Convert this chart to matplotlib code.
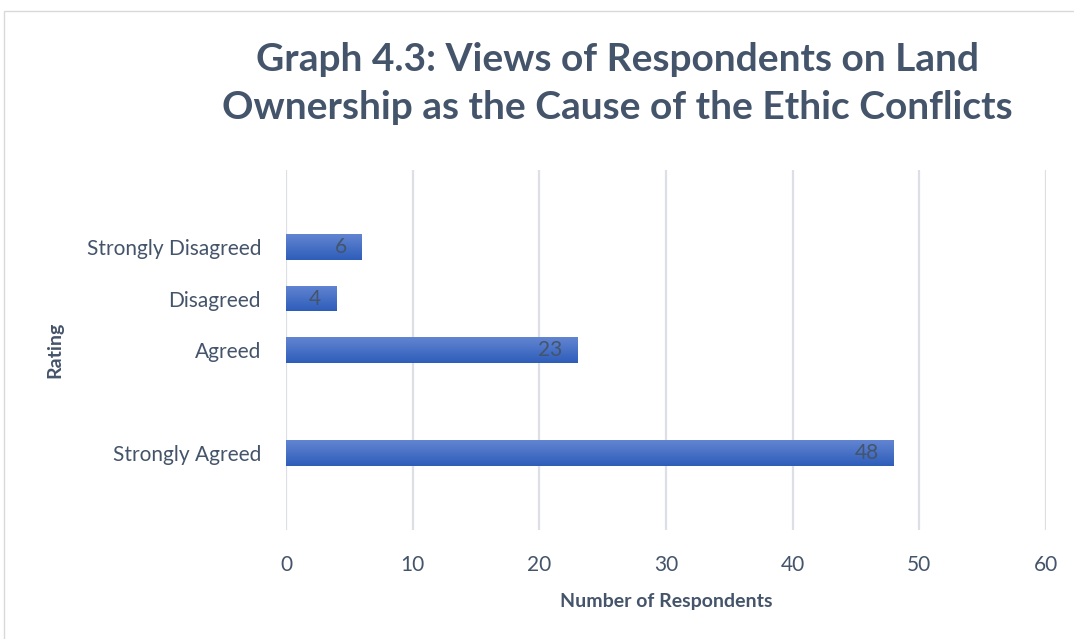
import matplotlib
matplotlib.use("Agg")
import matplotlib.pyplot as plt
from matplotlib.patches import Rectangle
import numpy as np

# data (bottom to top, blank slot between Strongly Agreed and Agreed)
categories = ["Strongly Agreed", "", "Agreed", "Disagreed", "Strongly Disagreed"]
values = [48, None, 23, 4, 6]

text_col = "#44546A"
grid_col = "#DCE0E6"

plt.rcParams['font.family'] = ['Lato', 'DejaVu Sans']

fig = plt.figure(figsize=(10.74, 6.39), dpi=100)
ax = fig.add_axes([0.2663, 0.1706, 0.7076, 0.5634])

# outer chart border
fig.patches.append(Rectangle((4 / 1074, -0.1), 1.2, 1 - 11 / 639 + 0.1,
                             transform=fig.transFigure, fill=False,
                             edgecolor="#D9D9D9", linewidth=1))

pos = np.arange(len(categories))
grad = np.linspace(0, 1, 64).reshape(-1, 1)
cmap = matplotlib.colors.LinearSegmentedColormap.from_list("bar", ["#2E5DB9", "#6285D2"])

for p, v in zip(pos, values):
    if v is None:
        continue
    bar = ax.barh(p, v, height=0.5, color="#4472C4", zorder=2)[0]
    im = ax.imshow(grad, cmap=cmap, extent=[0, v, p - 0.25, p + 0.25],
                   origin="lower", aspect="auto", zorder=2.5)
    im.set_clip_path(bar)
    ax.annotate(str(v), (v, p), xytext=(-11, 0), textcoords="offset points",
                ha="right", va="center", fontsize=15, color="#44546A", zorder=3)

ax.set_xlim(0, 60)
ax.set_ylim(-1.5, 5.5)
ax.set_xticks(range(0, 61, 10))
ax.set_yticks(pos)
ax.set_yticklabels(categories)
ax.grid(axis="x", color=grid_col, linewidth=1.6, zorder=0)
ax.set_axisbelow(True)
for s in ax.spines.values():
    s.set_visible(False)
ax.tick_params(length=0, labelsize=15, labelcolor=text_col)
ax.tick_params(axis="x", pad=18)
ax.tick_params(axis="y", pad=18)

ax.set_xlabel("Number of Respondents", fontsize=14, fontweight="bold",
              color=text_col, labelpad=13)
ax.set_ylabel("Rating", fontsize=14, fontweight="bold", color=text_col,
              labelpad=17)

fig.text(0.575, 0.869, "Graph 4.3: Views of Respondents on Land\n"
         "Ownership as the Cause of the Ethic Conflicts",
         ha="center", va="center", fontsize=28, fontweight="bold",
         color=text_col, linespacing=1.45)

fig.savefig("out.png", dpi=100)
